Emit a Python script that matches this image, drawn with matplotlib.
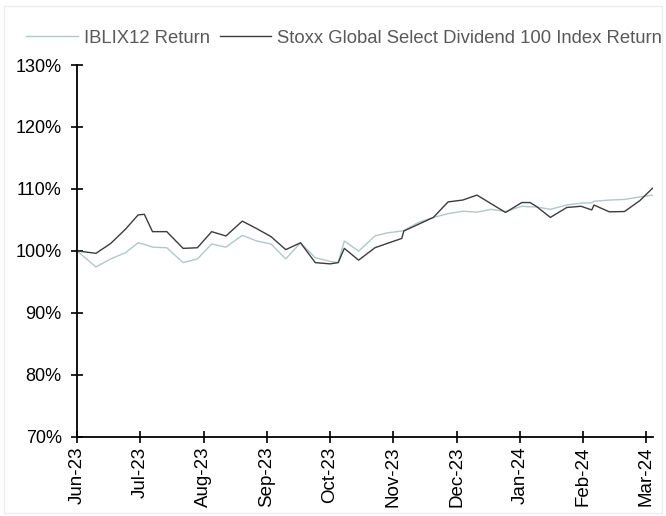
import calendar
import pandas as pd
import matplotlib
matplotlib.use("Agg")
import matplotlib.pyplot as plt
from matplotlib.patches import Rectangle

plt.rcParams["font.family"] = ["Liberation Sans", "DejaVu Sans"]

LIGHT = "#B0C8C8"
DARK = "#3C3C3C"

# ── data ──────────────────────────────────────────────────────────
dates = ["2023-06-01", "2023-06-10", "2023-06-17", "2023-06-24", "2023-06-30",
         "2023-07-03", "2023-07-07", "2023-07-14", "2023-07-22", "2023-07-29",
         "2023-08-05", "2023-08-12", "2023-08-20", "2023-08-27", "2023-09-03",
         "2023-09-10", "2023-09-17", "2023-09-24", "2023-10-01", "2023-10-05",
         "2023-10-08", "2023-10-15", "2023-10-23", "2023-10-29", "2023-11-05",
         "2023-11-06", "2023-11-13", "2023-11-20", "2023-11-27", "2023-12-04",
         "2023-12-11", "2023-12-18", "2023-12-25", "2024-01-02", "2024-01-06",
         "2024-01-09", "2024-01-16", "2024-01-24", "2024-01-31", "2024-02-05",
         "2024-02-06", "2024-02-13", "2024-02-20", "2024-02-27", "2024-03-04"]

iblix = [100.0, 97.4, 98.7, 99.7, 101.3, 101.05, 100.6, 100.5, 98.1, 98.7,
         101.1, 100.6, 102.5, 101.6, 101.1, 98.7, 101.3, 98.9, 98.3, 98.1,
         101.6, 99.95, 102.4, 102.9, 103.2, 103.3, 104.6, 105.4, 106.0, 106.4,
         106.25, 106.7, 106.35, 107.2, 107.1, 107.1, 106.7, 107.4, 107.7, 107.75,
         108.0, 108.2, 108.3, 108.7, 109.0]

stoxx = [100.0, 99.6, 101.2, 103.5, 105.8, 105.9, 103.1, 103.1, 100.4, 100.5,
         103.1, 102.4, 104.8, 103.6, 102.3, 100.2, 101.3, 98.1, 97.9, 98.1,
         100.4, 98.5, 100.5, 101.2, 102.0, 103.2, 104.3, 105.4, 107.9, 108.2,
         109.0, 107.6, 106.2, 107.8, 107.8, 107.2, 105.4, 107.0, 107.2, 106.6,
         107.4, 106.3, 106.35, 108.1, 110.1]

month_labels = ["Jun-23", "Jul-23", "Aug-23", "Sep-23", "Oct-23",
                "Nov-23", "Dec-23", "Jan-24", "Feb-24", "Mar-24"]

# months are spaced equally on the axis, so map each date to a month position
d = pd.to_datetime(dates)
start = d[0]
xpos = [(t.year - start.year) * 12 + (t.month - start.month)
        + (t.day - 1) / calendar.monthrange(t.year, t.month)[1] for t in d]

fig = plt.figure(figsize=(6.66, 5.16), dpi=100)
ax = fig.add_axes([0.1156, 0.1537, 0.865, 0.7203])

ax.plot(xpos, iblix, color=LIGHT, lw=1.0, label="IBLIX12 Return")
ax.plot(xpos, stoxx, color=DARK, lw=1.0,
        label="Stoxx Global Select Dividend 100 Index Return")

ax.set_xlim(0, xpos[-1] + 0.01)
ax.set_ylim(70, 130)
ax.set_yticks(range(70, 131, 10))
ax.set_yticklabels([f"{v}%" for v in range(70, 131, 10)])
ax.set_xticks(range(len(month_labels)))
ax.set_xticklabels(month_labels, rotation=90)

for s in ["top", "right"]:
    ax.spines[s].set_visible(False)
for s in ["left", "bottom"]:
    ax.spines[s].set_linewidth(1.3)
    ax.spines[s].set_color("black")
ax.tick_params(axis="both", direction="inout", length=8, width=1.2,
               colors="black")
ax.tick_params(axis="y", labelsize=13, pad=7)
ax.tick_params(axis="x", labelsize=13.5, pad=3)

fig.legend(loc="upper center", bbox_to_anchor=(0.517, 0.975), ncol=2,
           frameon=False, fontsize=13.3, handlelength=2.8, handletextpad=0.33,
           columnspacing=0.5, labelcolor="#595959")

fig.patches.append(Rectangle((0.006, 0.006), 0.988, 0.982, transform=fig.transFigure,
                             fill=False, edgecolor="#EEEEEE", lw=1.0))

fig.savefig("out.png", dpi=100)
